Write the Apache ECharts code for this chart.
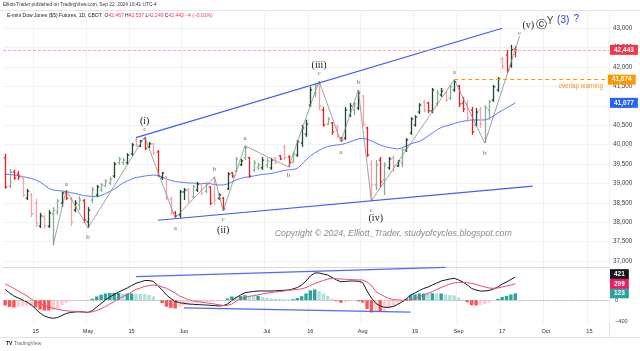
<!DOCTYPE html>
<html>
<head>
<meta charset="utf-8">
<script src="https://cdn.jsdelivr.net/npm/echarts@6/dist/echarts.min.js"></script>
<style>
  html, body { margin: 0; padding: 0; background: #fff; }
  #chart { width: 640px; height: 351px; }
</style>
</head>
<body>
<div id="chart"></div>
<script>
// trading days (futures session), plus a few empty days on the right
const holidays = ['2024-05-27', '2024-06-19', '2024-07-04', '2024-09-02'];
function tradingDays(start, count) {
  const out = [];
  const d = new Date(start + 'T12:00:00Z');
  while (out.length < count) {
    const wd = d.getUTCDay();
    const s = d.toISOString().slice(0, 10);
    if (wd !== 0 && wd !== 6 && holidays.indexOf(s) < 0) out.push(s);
    d.setUTCDate(d.getUTCDate() + 1);
  }
  return out;
}
const categories = tradingDays('2024-04-04', 139);

const timeLabels = {
  '2024-04-15': '15', '2024-05-01': 'May', '2024-05-15': '15', '2024-06-03': 'Jun',
  '2024-07-01': 'Jul', '2024-07-16': '16', '2024-08-01': 'Aug', '2024-08-19': '19',
  '2024-09-03': 'Sep', '2024-09-17': '17', '2024-10-01': 'Oct', '2024-10-15': '15'
};
const priceTicks = [37000, 37500, 38000, 38500, 39000, 39500, 40000, 40500, 41000, 41500, 42000, 42500, 43000];
const macdTicks = [-400, 0];

// daily OHLC, Apr 4 - Sep 20 2024
const opens = [
  39660, 38930, 39290, 39240, 39140, 38620, 38700, 38490, 37900, 38130,
  37900, 38210, 38260, 38490, 38780, 38600, 38310, 38440, 38550, 38010,
  38570, 38700, 38830, 38930, 39010, 39190, 39530, 39530, 39530, 39760,
  40120, 39960, 40150, 39940, 40020, 39810, 39140, 39170, 38600, 38240,
  38190, 38780, 38830, 38650, 38830, 38980, 38800, 38910, 38700, 38620,
  38620, 38860, 39270, 39320, 39480, 39660, 39660, 39350, 39400, 39400,
  39480, 39400, 39660, 39710, 39940, 39680, 39550, 39730, 40040, 40270,
  41020, 41330, 41560, 40890, 40530, 40560, 40460, 40170, 40170, 40760,
  40890, 40940, 41250, 40430, 39480, 38960, 39600, 39090, 39400, 39660,
  39450, 39530, 39860, 40300, 40510, 40840, 41100, 41070, 40870, 41050,
  41280, 41330, 41200, 41410, 41510, 41070, 41050, 40890, 40510, 40890,
  40640, 40890, 41150, 41410, 42210, 42310, 42030, 42467
];
const highs = [
  39760, 39370, 39350, 39320, 39190, 38860, 38750, 38600, 38240, 38190,
  38310, 38390, 38600, 38780, 38830, 38650, 38570, 38680, 38600, 38390,
  38910, 38960, 39010, 39110, 39170, 39550, 39680, 39660, 39780, 40040,
  40170, 40120, 40200, 40070, 40040, 39860, 39290, 39190, 38650, 38290,
  38830, 38880, 38880, 38960, 39040, 39010, 39040, 38930, 39170, 38750,
  38650, 39290, 39290, 39680, 39630, 39970, 39680, 39600, 39530, 39680,
  39660, 39660, 39680, 39730, 39990, 39730, 39810, 40120, 40510, 40640,
  41490, 41590, 41640, 40970, 40710, 40580, 40510, 40200, 40970, 41070,
  41100, 41410, 41280, 40460, 39600, 39600, 39680, 39550, 39680, 39730,
  39600, 39910, 40170, 40710, 40760, 41070, 41150, 41100, 41460, 41410,
  41460, 41360, 41540, 41674, 41540, 41230, 41150, 40970, 40940, 40970,
  41020, 41150, 41540, 41740, 42260, 42440, 42570, 42537
];
const lows = [
  38860, 38880, 39090, 39090, 38650, 38570, 38130, 37880, 37850, 37820,
  37850, 37410, 38190, 38390, 38570, 37900, 38260, 38310, 37980, 37850,
  38490, 38650, 38780, 38910, 38960, 39140, 39480, 39480, 39480, 39710,
  39940, 39940, 39860, 39910, 39730, 39170, 39090, 38570, 38190, 38110,
  38110, 38570, 38490, 38620, 38780, 38700, 38750, 38440, 38440, 38570,
  38290, 38830, 39140, 39290, 39450, 39600, 39140, 39290, 39350, 39350,
  39400, 39350, 39500, 39600, 39600, 39420, 39530, 39680, 39940, 40200,
  40970, 41230, 40890, 40460, 40510, 40250, 40170, 40070, 40120, 40710,
  40760, 40890, 40460, 39680, 38550, 38830, 38910, 38700, 39350, 39290,
  39420, 39420, 39810, 40250, 40460, 40790, 40840, 40810, 40810, 41000,
  41230, 41100, 41150, 41360, 40970, 40840, 40580, 40250, 40460, 40430,
  40040, 40640, 41100, 41360, 41950, 41850, 41980, 42249
];
const closes = [
  38910, 39290, 39140, 39170, 38700, 38800, 38210, 37980, 38160, 37900,
  38240, 38310, 38550, 38750, 38620, 38000, 38490, 38570, 38060, 38310,
  38830, 38910, 38960, 39060, 39110, 39500, 39630, 39600, 39730, 39990,
  39990, 40090, 39910, 40020, 39780, 39190, 39270, 38620, 38240, 38160,
  38780, 38830, 38570, 38910, 38980, 38750, 38980, 38490, 38570, 38700,
  38340, 39240, 39190, 39630, 39580, 39910, 39190, 39530, 39480, 39600,
  39580, 39600, 39530, 39630, 39660, 39530, 39760, 40070, 40430, 40530,
  41410, 41510, 41000, 40510, 40660, 40330, 40220, 40120, 40890, 41000,
  41050, 41330, 40530, 39730, 38960, 39480, 39040, 39480, 39630, 39450,
  39580, 39860, 40120, 40660, 40710, 41020, 40890, 40870, 41410, 41330,
  41380, 41150, 41490, 41620, 41050, 40920, 40690, 40330, 40840, 40530,
  40940, 41100, 41490, 41690, 42030, 41920, 42447, 42443
];
// 1 = heavy-volume bar (dark shade), 0 = light shade
const heavyVolume = [
  1,0,1,1,0,1,0,0,1,0, 1,0,0,1,1,0,1,0,1,1, 0,1,0,0,0,1,0,0,1,1,
  0,1,1,1,0,1,1,0,0,1, 1,1,0,0,1,0,0,1,0,1, 1,1,1,0,1,0,1,0,0,1,
  0,1,0,1,0,1,0,1,1,1, 1,0,0,1,0,1,0,1,1,1, 0,1,0,1,0,0,1,0,1,0,
  1,0,1,1,1,1,0,1,1,0, 1,0,0,1,1,1,0,1,1,0, 0,0,1,1,0,1,1,1
];
const movingAvg = [
  39235, 39230, 39217, 39204, 39178, 39152, 39127, 39088, 39036, 38959,
  38869, 38830, 38817, 38804, 38791, 38765, 38740, 38714, 38688, 38675,
  38662, 38657, 38688, 38740, 38791, 38856, 38933, 39010, 39062, 39114,
  39152, 39170, 39191, 39204, 39217, 39204, 39165, 39114, 39075, 39049,
  39036, 39023, 39010, 39010, 39003, 38998, 38998, 38992, 38972, 38959,
  38959, 38985, 39036, 39088, 39127, 39157, 39173, 39191, 39212, 39230,
  39243, 39255, 39281, 39307, 39333, 39346, 39359, 39384, 39488, 39604,
  39707, 39784, 39849, 39913, 39952, 39972, 39990, 40003, 40029, 40068,
  40107, 40145, 40163, 40138, 40094, 40042, 39990, 39952, 39926, 39905,
  39887, 39913, 39965, 40016, 40055, 40081, 40145, 40223, 40300, 40377,
  40442, 40480, 40506, 40545, 40576, 40602, 40622, 40635, 40635, 40635,
  40635, 40674, 40738, 40816, 40880, 40945, 41009, 41077
];
const macdLine = [
  194, 129, 74, 37, 0, -37, -92, -166, -240, -295,
  -323, -337, -323, -286, -249, -230, -221, -216, -221, -230,
  -194, -129, -65, 0, 55, 101, 147, 184, 221, 267,
  308, 332, 359, 359, 341, 267, 184, 92, 28, -28,
  -50, -61, -74, -79, -85, -88, -92, -98, -103, -111,
  -103, -74, -9, 46, 92, 135, 147, 157, 166, 166,
  166, 166, 170, 175, 179, 184, 203, 230, 276, 350,
  442, 498, 498, 479, 461, 415, 369, 337, 341, 350,
  350, 345, 323, 166, 37, -61, -111, -135, -135, -120,
  -83, -37, 18, 92, 129, 175, 212, 240, 276, 313,
  350, 369, 387, 400, 369, 332, 276, 212, 184, 166,
  166, 175, 203, 240, 295, 332, 378, 421.4
];
const signalLine = [
  295, 258, 212, 166, 120, 74, 18, -28, -65, -101,
  -129, -153, -171, -188, -199, -206, -212, -217, -221, -227,
  -217, -194, -162, -120, -74, -28, 18, 65, 101, 147,
  194, 221, 249, 267, 276, 267, 240, 216, 175, 129,
  74, 41, 9, -13, -28, -41, -50, -61, -74, -88,
  -101, -101, -74, -18, 18, 46, 65, 83, 92, 111,
  125, 138, 147, 157, 166, 179, 188, 194, 206, 230,
  267, 304, 332, 359, 387, 396, 391, 387, 382, 378,
  372, 370, 369, 332, 267, 157, 111, 65, 28, 9,
  0, -6, -6, 0, 28, 55, 92, 123, 153, 194,
  230, 264, 295, 313, 323, 323, 317, 308, 286, 262,
  240, 221, 216, 221, 240, 258, 276, 298.6
];

// drawn annotations: [day index, price, text]
const waveZigzag = [
  [11, 37410], [14, 38830], [19, 37850], [32, 40200], [39, 38110], [48, 39170],
  [50, 38290], [55, 39970], [65, 39420], [72, 41640], [77, 40070], [81, 41410],
  [84, 38550], [103, 41674], [110, 40040], [118, 42800]
];
const upperChannel = [[30, 40180], [114, 43000]];
const lowerChannel = [[35, 38050], [121, 38930]];
const macdUpper = [[30, 430], [101, 600]];
const macdLower = [[41, -147], [93, -225]];
const waveLabels = [
  [14, 38990, 'a'], [19, 37620, 'b'], [32, 40400, 'c'], [32, 40610, '(i)'],
  [39, 37850, 'a'], [48, 39370, 'b'], [50, 38070, 'c'], [50, 37800, '(ii)'],
  [55, 40170, 'a'], [65, 39200, 'b'], [72, 41840, 'c'], [72, 42030, '(iii)'],
  [77, 39800, 'a'], [81, 41610, 'b'], [84, 38300, 'c'], [85, 38100, '(iv)'],
  [103, 41860, 'a'], [110, 39790, 'b'], [118, 42870, 'c'],
  [120, 43085, '(v)'], [123, 43085, 'ⓒ'], [125, 43170, 'Y'], [128, 43200, '(3)'], [131, 43230, '?']
];
const noteLabels = [
  [132, 41510, 'overlap warning'],
  [89, 37700, 'Copyright © 2024, Elliott_Trader, studyofcycles.blogspot.com']
];
const overlapStart = 103;

const fmt = v => Math.round(v).toLocaleString('en-US');
const n = closes.length;
const lastClose = closes[n - 1];
const change = lastClose - closes[n - 2];
const overlapLevel = highs[overlapStart];
const hist = macdLine.map((m, i) => m - signalLine[i]);

const barData = opens.map((o, i) => [i, o, closes[i], lows[i], highs[i], heavyVolume[i]]);
const histData = hist.map((h, i) => {
  const prev = i > 0 ? hist[i - 1] : h;
  let c;
  if (h >= 0) c = h >= prev ? '#26a69a' : '#b2dfdb';
  else c = h <= prev ? '#ff5252' : '#ffcdd2';
  return { value: h, itemStyle: { color: c } };
});

function renderBar(params, api) {
  const i = api.value(0);
  const o = api.coord([i, api.value(1)]);
  const c = api.coord([i, api.value(2)]);
  const l = api.coord([i, api.value(3)]);
  const h = api.coord([i, api.value(4)]);
  const up = api.value(2) >= api.value(1);
  const heavy = api.value(5) === 1;
  const color = up ? (heavy ? '#1d4a2d' : '#8eac95') : (heavy ? '#ee1c25' : '#f6a2a6');
  const t = api.size([1, 0])[0] * 0.4;
  const x = Math.round(o[0]) + 0.5;
  const st = { stroke: color, lineWidth: 1.3 };
  return {
    type: 'group',
    children: [
      { type: 'line', shape: { x1: x, y1: h[1], x2: x, y2: l[1] }, style: st },
      { type: 'line', shape: { x1: x - t, y1: o[1], x2: x, y2: o[1] }, style: st },
      { type: 'line', shape: { x1: x, y1: c[1], x2: x + t, y2: c[1] }, style: st }
    ]
  };
}

function waveStyle(txt) {
  if (/^[abc]$/.test(txt)) return { fill: '#5f5f5f', fontSize: 7, fontFamily: 'Liberation Serif' };
  if (txt === 'ⓒ') return { fill: '#131722', fontSize: 11, fontFamily: 'DejaVu Sans' };
  if (txt === 'Y') return { fill: '#444', fontSize: 10, fontFamily: 'Liberation Sans' };
  if (txt === '(3)' || txt === '?') return { fill: '#2343d0', fontSize: 10, fontFamily: 'Liberation Sans' };
  return { fill: '#131722', fontSize: 10, fontFamily: 'Liberation Serif' };
}

function renderWave(params, api) {
  const p = api.coord([api.value(0), api.value(1)]);
  const txt = waveLabels[params.dataIndex][2];
  return {
    type: 'text', x: p[0], y: p[1],
    style: Object.assign({ text: txt, align: 'center', verticalAlign: 'middle' }, waveStyle(txt))
  };
}

function renderNote(params, api) {
  const p = api.coord([api.value(0), api.value(1)]);
  const txt = noteLabels[params.dataIndex][2];
  const st = params.dataIndex === 0
    ? { fill: '#f7931e', fontSize: 6.3, fontFamily: 'Liberation Sans' }
    : { fill: '#8a8a8a', fontSize: 8.8, fontStyle: 'italic', fontFamily: 'Liberation Sans' };
  return {
    type: 'text', x: p[0], y: p[1],
    style: Object.assign({ text: txt, align: 'center', verticalAlign: 'middle' }, st)
  };
}

const labelInterval = (idx, value) => timeLabels[value] !== undefined;
const gridLine = { color: '#f1f2f5', width: 1 };
const hidden = { color: 'rgba(0,0,0,0)', width: 1 };
const tag = (bg, text, extra) => Object.assign({
  show: true, position: 'end', distance: 1, formatter: text,
  backgroundColor: bg, color: '#fff', fontSize: 6.5, fontWeight: 'bold',
  fontFamily: 'Liberation Sans', padding: [2, 4, 1, 4]
}, extra || {});

const header = '{n|E-mini Dow Jones ($5) Futures, 1D, CBOT}  ' +
  '{k|O}{v|' + fmt(opens[n - 1]) + '} {k|H}{v|' + fmt(highs[n - 1]) + '} ' +
  '{k|L}{v|' + fmt(lows[n - 1]) + '} {k|C}{v|' + fmt(lastClose) + '} ' +
  '{v|' + (change < 0 ? '−' : '+') + Math.abs(change) + ' (' + (change < 0 ? '−' : '+') +
  Math.abs(change / closes[n - 2] * 100).toFixed(2) + '%)}';

const chart = echarts.init(document.getElementById('chart'));
chart.setOption({
  animation: false,
  backgroundColor: '#fff',
  title: [
    {
      text: 'Elliott-Trader published on TradingView.com, Sep 22, 2024 16:41 UTC-4',
      left: 3, top: 2, padding: 0,
      textStyle: { fontSize: 4.8, fontWeight: 'normal', color: '#333', fontFamily: 'Liberation Sans' }
    },
    {
      text: header, left: 7, top: 13, padding: 0,
      textStyle: {
        fontSize: 5, fontWeight: 'normal', fontFamily: 'Liberation Sans',
        rich: {
          n: { fontSize: 5, color: '#131722', fontFamily: 'Liberation Sans' },
          k: { fontSize: 5, color: '#131722', fontFamily: 'Liberation Sans' },
          v: { fontSize: 5, color: '#f23645', fontFamily: 'Liberation Sans' }
        }
      }
    }
  ],
  graphic: [
    { type: 'line', shape: { x1: 0, y1: 10.5, x2: 640, y2: 10.5 }, style: { stroke: '#e0e3eb', lineWidth: 1 } },
    { type: 'line', shape: { x1: 0, y1: 337.5, x2: 640, y2: 337.5 }, style: { stroke: '#e0e3eb', lineWidth: 1 } },
    { type: 'line', shape: { x1: 609.5, y1: 10, x2: 609.5, y2: 337 }, style: { stroke: '#e0e3eb', lineWidth: 1 } },
    {
      type: 'text', left: 6, top: 341,
      style: {
        text: '{b|TV} TradingView', fill: '#6a6d78', fontSize: 5, fontFamily: 'Liberation Sans',
        rich: { b: { fontSize: 5, fontWeight: 'bold', fill: '#131722' } }
      }
    }
  ],
  grid: [
    { left: 3, right: 31, top: 10, height: 257 },
    { left: 3, right: 31, top: 267, height: 56 }
  ],
  xAxis: [
    {
      gridIndex: 0, type: 'category', data: categories, boundaryGap: true,
      axisLine: { show: true, lineStyle: { color: '#d6d8df' } },
      axisTick: { show: false }, axisLabel: { show: false },
      splitLine: { show: true, interval: labelInterval, lineStyle: gridLine }
    },
    {
      gridIndex: 1, type: 'category', data: categories, boundaryGap: true,
      axisLine: { show: true, lineStyle: { color: '#d6d8df' } },
      axisTick: { show: false },
      axisLabel: {
        show: true, interval: labelInterval, formatter: v => timeLabels[v] || '',
        color: '#2a2e39', fontSize: 5.6, margin: 5, fontFamily: 'Liberation Sans'
      },
      splitLine: { show: true, interval: labelInterval, lineStyle: gridLine }
    }
  ],
  yAxis: [
    {
      gridIndex: 0, type: 'value', position: 'right', min: 36845, max: 43470,
      axisLine: { show: false },
      axisTick: { show: false, customValues: priceTicks },
      axisLabel: {
        customValues: priceTicks, formatter: v => fmt(v), color: '#3b3f4a',
        fontSize: 6.3, margin: 4, fontFamily: 'Liberation Sans'
      },
      splitLine: { show: true, lineStyle: gridLine }
    },
    {
      gridIndex: 1, type: 'value', position: 'right', min: -424, max: 608,
      axisLine: { show: false },
      axisTick: { show: false, customValues: macdTicks },
      axisLabel: {
        customValues: macdTicks, formatter: v => (v < 0 ? '−' + Math.abs(v) : String(v)),
        color: '#3b3f4a', fontSize: 5.6, margin: 6, fontFamily: 'Liberation Sans'
      },
      splitLine: { show: false }
    }
  ],
  series: [
    {
      name: 'MA', type: 'line', xAxisIndex: 0, yAxisIndex: 0, data: movingAvg,
      showSymbol: false, lineStyle: { color: '#5a7cf6', width: 1 }, z: 2,
      markLine: {
        symbol: 'none', silent: true, animation: false,
        data: [
          { yAxis: lastClose, lineStyle: { color: '#f7a7ae', type: [3, 2], width: 1 },
            label: tag('#f23645', fmt(lastClose)) },
          [
            { coord: [categories[overlapStart], overlapLevel], lineStyle: { color: '#ff9800', type: [4, 3], width: 1.2 },
              label: tag('#ff9800', fmt(overlapLevel)) },
            { coord: [categories[categories.length - 1], overlapLevel] }
          ],
          { yAxis: movingAvg[n - 1], lineStyle: hidden,
            label: tag('#2962ff', fmt(movingAvg[n - 1])) }
        ]
      }
    },
    {
      name: 'YM', type: 'custom', xAxisIndex: 0, yAxisIndex: 0, data: barData,
      renderItem: renderBar, encode: { x: 0, y: [1, 2, 3, 4] }, z: 3
    },
    {
      name: 'waves', type: 'line', xAxisIndex: 0, yAxisIndex: 0, data: waveZigzag,
      showSymbol: false, lineStyle: { color: '#8a8a8a', width: 0.8 }, z: 4
    },
    {
      name: 'upper', type: 'line', xAxisIndex: 0, yAxisIndex: 0, data: upperChannel,
      showSymbol: false, lineStyle: { color: '#3c5cf4', width: 1.2 }, z: 4
    },
    {
      name: 'lower', type: 'line', xAxisIndex: 0, yAxisIndex: 0, data: lowerChannel,
      showSymbol: false, lineStyle: { color: '#3c5cf4', width: 1.2 }, z: 4
    },
    {
      name: 'labels', type: 'custom', xAxisIndex: 0, yAxisIndex: 0,
      data: waveLabels.map(w => [w[0], w[1]]), renderItem: renderWave, z: 5
    },
    {
      name: 'notes', type: 'custom', xAxisIndex: 0, yAxisIndex: 0,
      data: noteLabels.map(w => [w[0], w[1]]), renderItem: renderNote, z: 5
    },
    {
      name: 'hist', type: 'bar', xAxisIndex: 1, yAxisIndex: 1, data: histData,
      barCategoryGap: '22%', z: 2,
      markLine: {
        symbol: 'none', silent: true, animation: false,
        data: [
          { yAxis: 0, lineStyle: { color: '#b2b5be', type: [1, 2], width: 1 }, label: { show: false } },
          { yAxis: hist[n - 1], lineStyle: hidden, label: tag('#26a69a', fmt(hist[n - 1])) }
        ]
      }
    },
    {
      name: 'MACD', type: 'line', xAxisIndex: 1, yAxisIndex: 1, data: macdLine,
      showSymbol: false, lineStyle: { color: '#131722', width: 1 }, z: 3,
      markLine: {
        symbol: 'none', silent: true, animation: false,
        data: [{ yAxis: macdLine[n - 1], lineStyle: hidden,
          label: tag('#131722', fmt(macdLine[n - 1]), { offset: [0, -3] }) }]
      }
    },
    {
      name: 'Signal', type: 'line', xAxisIndex: 1, yAxisIndex: 1, data: signalLine,
      showSymbol: false, lineStyle: { color: '#ec4a6e', width: 1 }, z: 3,
      markLine: {
        symbol: 'none', silent: true, animation: false,
        data: [{ yAxis: signalLine[n - 1], lineStyle: hidden,
          label: tag('#e91e63', fmt(signalLine[n - 1])) }]
      }
    },
    {
      name: 'macdUpper', type: 'line', xAxisIndex: 1, yAxisIndex: 1, data: macdUpper,
      showSymbol: false, lineStyle: { color: '#4a6cf7', width: 1.2 }, z: 4
    },
    {
      name: 'macdLower', type: 'line', xAxisIndex: 1, yAxisIndex: 1, data: macdLower,
      showSymbol: false, lineStyle: { color: '#4a6cf7', width: 1.2 }, z: 4
    }
  ]
});
window.addEventListener('resize', () => chart.resize());
</script>
</body>
</html>
